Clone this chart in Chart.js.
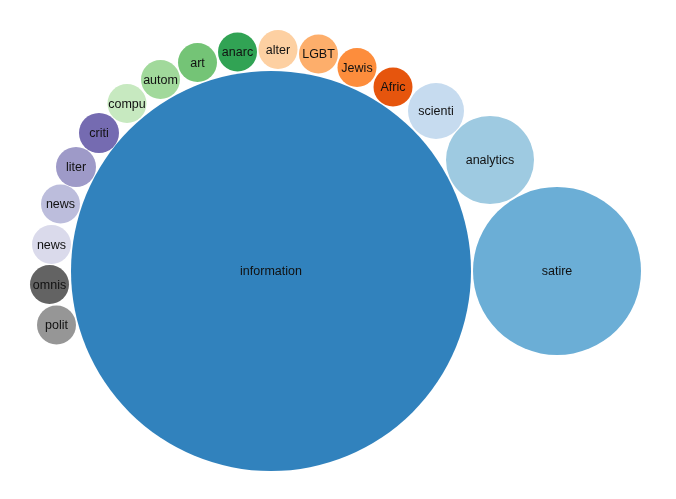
<!DOCTYPE html>
<html>
<head>
<meta charset="utf-8">
<script src="https://cdn.jsdelivr.net/npm/chart.js@4"></script>
<style>
html,body{margin:0;padding:0;background:#fff;}
#c{display:block;}
</style>
</head>
<body>
<canvas id="c" width="676" height="499"></canvas>
<script>
const labels = ["information","satire","analytics","scienti","Afric","Jewis","LGBT","alter","anarc","art","autom","compu","criti","liter","news","news","omnis","polit"];
const xs = [271, 557, 490, 436, 393, 357, 318.5, 278, 237.5, 197.5, 160.5, 127, 99, 76, 60.5, 51.5, 49.5, 56.5];
const ys = [271, 271, 160, 111, 87, 67.5, 54, 49.5, 52, 62.5, 79.5, 103.5, 133, 167, 204, 244.5, 284.5, 325];
const radii = [200, 84, 44, 28, 19.5, 19.5, 19.5, 19.5, 19.5, 19.5, 19.5, 19.5, 20, 20, 19.5, 19.5, 19.5, 19.5];
const colors = ["#3182bd","#6baed6","#9ecae1","#c6dbef","#e6550d","#fd8d3c","#fdae6b","#fdd0a2","#31a354","#74c476","#a1d99b","#c7e9c0","#756bb1","#9e9ac8","#bcbddc","#dadaeb","#636363","#969696"];

const points = labels.map((l, i) => ({x: xs[i], y: ys[i], r: radii[i]}));

const labelPlugin = {
  id: 'bubbleLabels',
  afterDatasetsDraw(chart) {
    const ctx = chart.ctx;
    const meta = chart.getDatasetMeta(0);
    ctx.save();
    ctx.font = '12.5px "Liberation Sans", Arial, sans-serif';
    ctx.fillStyle = '#111';
    ctx.textAlign = 'center';
    ctx.textBaseline = 'middle';
    meta.data.forEach((el, i) => {
      ctx.fillText(labels[i], el.x, el.y + 1);
    });
    ctx.restore();
  }
};

new Chart(document.getElementById('c'), {
  type: 'bubble',
  data: {
    labels: labels,
    datasets: [{
      data: points,
      backgroundColor: colors,
      hoverBackgroundColor: colors,
      borderWidth: 0,
      hoverBorderWidth: 0,
      clip: false
    }]
  },
  options: {
    responsive: false,
    animation: false,
    layout: {padding: 0, autoPadding: false},
    plugins: {legend: {display: false}, tooltip: {enabled: false}},
    events: [],
    scales: {
      x: {type: 'linear', min: 0, max: 676, display: false},
      y: {type: 'linear', min: 0, max: 499, reverse: true, display: false}
    }
  },
  plugins: [labelPlugin]
});
</script>
</body>
</html>
